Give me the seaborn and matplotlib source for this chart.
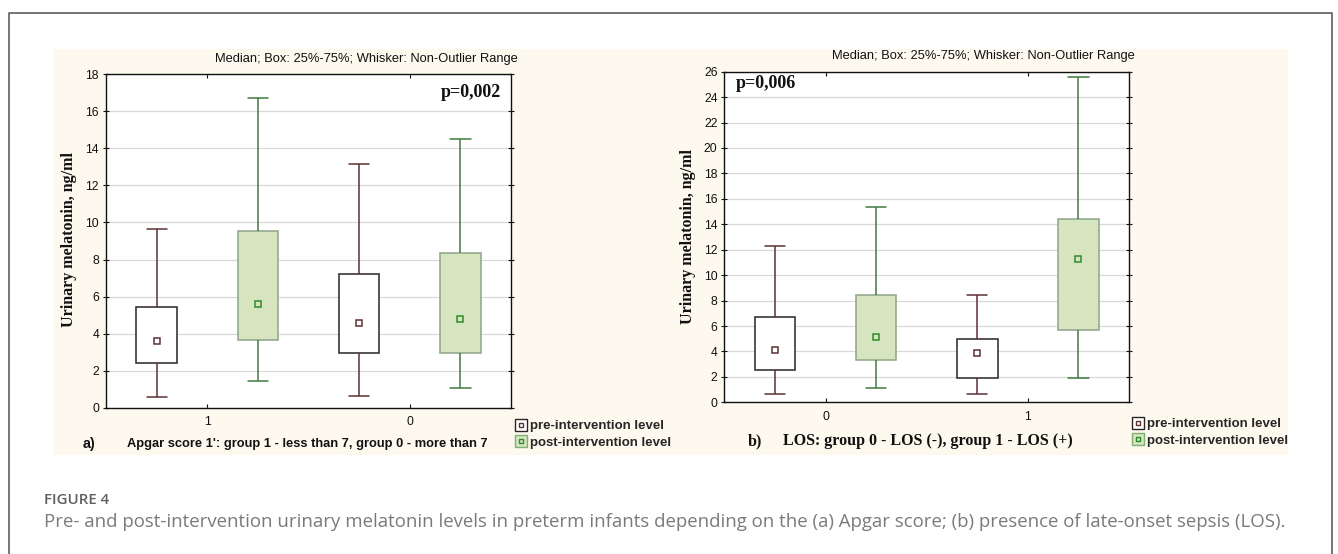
import numpy as np
import pandas as pd
import matplotlib
matplotlib.use("Agg")
import matplotlib.pyplot as plt
import seaborn as sns
from matplotlib.lines import Line2D
from matplotlib.patches import Rectangle
from matplotlib.legend_handler import HandlerTuple

# ---------------- data ----------------
hue_levels = ["pre-intervention level", "post-intervention level"]

# Panel a: Apgar score 1'
a_groups = ["1", "0"]
a_pre_low = [0.61, 0.67]
a_pre_q1 = [2.45, 2.99]
a_pre_med = [3.60, 4.57]
a_pre_q3 = [5.47, 7.23]
a_pre_high = [9.62, 13.17]
a_post_low = [1.47, 1.10]
a_post_q1 = [3.69, 2.99]
a_post_med = [5.59, 4.78]
a_post_q3 = [9.55, 8.33]
a_post_high = [16.73, 14.51]

# Panel b: LOS
b_groups = ["0", "1"]
b_pre_low = [0.63, 0.63]
b_pre_q1 = [2.52, 1.89]
b_pre_med = [4.14, 3.88]
b_pre_q3 = [6.74, 4.95]
b_pre_high = [12.29, 8.41]
b_post_low = [1.10, 1.91]
b_post_q1 = [3.30, 5.66]
b_post_med = [5.14, 11.27]
b_post_q3 = [8.47, 14.39]
b_post_high = [15.33, 25.56]

a_yticks = list(range(0, 19, 2))
b_yticks = list(range(0, 27, 2))


def long_frame(groups, pre, post):
    rows = []
    for lvl, stats in zip(hue_levels, [pre, post]):
        for i, g in enumerate(groups):
            for s in stats:
                rows.append({"group": g, "level": lvl, "value": s[i]})
    return pd.DataFrame(rows)


df_a = long_frame(a_groups,
                  [a_pre_low, a_pre_q1, a_pre_med, a_pre_q3, a_pre_high],
                  [a_post_low, a_post_q1, a_post_med, a_post_q3, a_post_high])
df_b = long_frame(b_groups,
                  [b_pre_low, b_pre_q1, b_pre_med, b_pre_q3, b_pre_high],
                  [b_post_low, b_post_q1, b_post_med, b_post_q3, b_post_high])

# ---------------- style ----------------
sns.set_style("white")
plt.rcParams["font.family"] = ["Liberation Sans", "DejaVu Sans"]

W, H = 1338, 554
PRE_FACE = "#ffffff"
POST_FACE = "#d6e4bf"
PRE_EDGE = "#2b2424"
POST_EDGE = "#8ea387"
PRE_WHISK = "#5e3034"
POST_WHISK = "#3f7a3d"
PRE_MED = "#5e3034"
POST_MED = "#2e8b2e"
SANS = "Liberation Sans"
SERIF = "Liberation Serif"

fig = plt.figure(figsize=(W / 100, H / 100), dpi=100)
fig.patch.set_facecolor("white")


def fx(px):
    return px / W


def fy(py):
    return 1 - py / H


# cream panel and outer frame
fig.patches.append(Rectangle((fx(54), fy(455)), fx(1288) - fx(54), fy(49) - fy(455),
                             transform=fig.transFigure, facecolor="#fdf9ee",
                             edgecolor="none", zorder=-10))
fig.add_artist(Line2D([fx(9), fx(9), fx(1332), fx(1332)], [0, fy(13), fy(13), 0],
                      transform=fig.transFigure, color="#6a6a6a", lw=1.3))


def draw_panel(ax, df, order, yticks):
    styles = {
        hue_levels[0]: (PRE_FACE, PRE_EDGE, PRE_WHISK, PRE_MED),
        hue_levels[1]: (POST_FACE, POST_EDGE, POST_WHISK, POST_MED),
    }
    palette = {k: v[0] for k, v in styles.items()}
    for lvl in hue_levels:
        face, edge, wcol, mcol = styles[lvl]
        sub = df[df["level"] == lvl]
        n0 = len(ax.patches)
        sns.boxplot(data=sub, x="group", y="value", hue="level", order=order,
                    hue_order=hue_levels, palette=palette, saturation=1,
                    dodge=True, width=1.0, gap=0.6, whis=(0, 100), showfliers=False,
                    linewidth=1.1, linecolor=wcol, legend=False,
                    medianprops=dict(linewidth=0), ax=ax)
        for p in ax.patches[n0:]:
            p.set_edgecolor(edge)
        n1 = len(ax.lines)
        sns.pointplot(data=sub, x="group", y="value", hue="level", order=order,
                      hue_order=hue_levels, estimator="median", errorbar=None,
                      dodge=0.5, markers="s", linestyles="none",
                      palette={hue_levels[0]: mcol, hue_levels[1]: mcol},
                      legend=False, ax=ax)
        for ln in ax.lines[n1:]:
            ln.set_markerfacecolor(face if lvl == hue_levels[1] else "white")
            ln.set_markeredgecolor(mcol)
            ln.set_markersize(4.5)
            ln.set_markeredgewidth(1.1)
            ln.set_zorder(6)
    ax.set_xlim(-0.5, 1.5)
    ax.set_ylim(yticks[0], yticks[-1])
    ax.set_yticks(yticks)
    ax.set_xlabel("")
    ax.set_ylabel("")
    ax.set_facecolor("white")
    ax.yaxis.grid(True, color="#d9d9d9", lw=0.9)
    ax.set_axisbelow(True)
    for s in ax.spines.values():
        s.set_visible(True)
        s.set_color("#111111")
        s.set_linewidth(1.0)
    ax.tick_params(axis="x", direction="in", length=3, top=True, bottom=True,
                   labelsize=8.7, colors="#111111", pad=6)
    ax.tick_params(axis="y", direction="inout", length=4, left=True, right=True,
                   labelsize=8.7, colors="#111111", pad=3)
    for lab in ax.get_xticklabels() + ax.get_yticklabels():
        lab.set_fontfamily(SANS)


ax_a = fig.add_axes([fx(106), fy(408), fx(511) - fx(106), fy(74) - fy(408)])
draw_panel(ax_a, df_a, a_groups, a_yticks)
ax_b = fig.add_axes([fx(724.5), fy(402.3), fx(1129) - fx(724.5), fy(71.7) - fy(402.3)])
draw_panel(ax_b, df_b, b_groups, b_yticks)

title = "Median; Box: 25%-75%; Whisker: Non-Outlier Range"
fig.text(fx(366), fy(59), title, ha="center", va="center", family=SANS,
         fontsize=9.3, color="#111111")
fig.text(fx(983), fy(56), title, ha="center", va="center", family=SANS,
         fontsize=9.3, color="#111111")

ylab = "Urinary melatonin, ng/ml"
fig.text(fx(69), fy(240), ylab, rotation=90, ha="center", va="center",
         family=SERIF, fontweight="bold", fontsize=11.5, color="#111111")
fig.text(fx(688), fy(237), ylab, rotation=90, ha="center", va="center",
         family=SERIF, fontweight="bold", fontsize=11.5, color="#111111")

fig.text(fx(501), fy(93), "p=0,002", ha="right", va="center", family=SERIF,
         fontweight="bold", fontsize=13, color="#111111")
fig.text(fx(736), fy(83), "p=0,006", ha="left", va="center", family=SERIF,
         fontweight="bold", fontsize=13, color="#111111")

fig.text(fx(83), fy(444), "a)", ha="left", va="center", family=SANS,
         fontweight="bold", fontsize=10.3, color="#111111")
fig.text(fx(127), fy(444), "Apgar score 1': group 1 - less than 7, group 0 - more than 7",
         ha="left", va="center", family=SANS, fontweight="bold", fontsize=9.3,
         color="#111111")
fig.text(fx(748), fy(441), "b)", ha="left", va="center", family=SERIF,
         fontweight="bold", fontsize=11.5, color="#111111")
fig.text(fx(783), fy(441), "LOS: group 0 - LOS (-), group 1 - LOS (+)",
         ha="left", va="center", family=SERIF, fontweight="bold", fontsize=11.5,
         color="#111111")


def legend_handles():
    pre = (Line2D([], [], ls="none", marker="s", markersize=8, markerfacecolor="white",
                  markeredgecolor=PRE_EDGE, markeredgewidth=1.0),
           Line2D([], [], ls="none", marker="s", markersize=3.5, markerfacecolor="white",
                  markeredgecolor=PRE_MED, markeredgewidth=1.0))
    post = (Line2D([], [], ls="none", marker="s", markersize=8, markerfacecolor=POST_FACE,
                   markeredgecolor="#7fb06e", markeredgewidth=1.0),
            Line2D([], [], ls="none", marker="s", markersize=3.5, markerfacecolor=POST_FACE,
                   markeredgecolor=POST_MED, markeredgewidth=1.0))
    return [pre, post]


for (lx, ly) in [(515, 420), (1132, 418)]:
    fig.legend(legend_handles(), hue_levels, loc="upper left",
               bbox_to_anchor=(fx(lx), fy(ly)), bbox_transform=fig.transFigure,
               frameon=False, handler_map={tuple: HandlerTuple(ndivide=1, pad=0)},
               handlelength=0.9, handletextpad=0.2, labelspacing=0.32,
               borderpad=0, borderaxespad=0,
               prop={"family": SANS, "weight": "bold", "size": 9.5})

fig.text(fx(44), fy(500), "FIGURE 4", ha="left", va="center", family="Open Sans",
         fontweight="semibold", fontsize=10.8, color="#5f5f5f")
fig.text(fx(44), fy(522),
         "Pre- and post-intervention urinary melatonin levels in preterm infants depending on the "
         "(a) Apgar score; (b) presence of late-onset sepsis (LOS).",
         ha="left", va="center", family="Open Sans", fontsize=13.4, color="#7a7a7a")

fig.savefig("out.png", dpi=100)
